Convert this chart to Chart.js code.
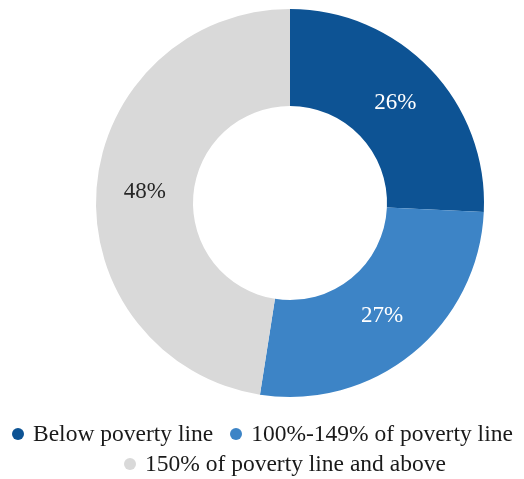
<!DOCTYPE html>
<html>
<head>
<meta charset="utf-8">
<script src="https://cdn.jsdelivr.net/npm/chart.js@4/dist/chart.umd.min.js"></script>
<style>
  html, body { margin: 0; padding: 0; background: #ffffff; }
  #wrap { position: relative; width: 524px; height: 479px; }
  canvas { position: absolute; left: 0; top: 0; }
  .row { position: absolute; white-space: nowrap; font-family: "Liberation Serif", "Times New Roman", "DejaVu Serif", serif; font-size: 23.5px; color: #1a1a1a; line-height: 26px; }
  .item { display: inline-block; margin-right: 17px; }
  .dot { display: inline-block; width: 12px; height: 12px; border-radius: 50%; margin-right: 9px; vertical-align: 1px; }
</style>
</head>
<body>
<div id="wrap">
  <canvas id="c" width="524" height="479"></canvas>
  <div id="row1" class="row" style="left:12px; top:420px;"></div>
  <div id="row2" class="row" style="left:124px; top:450px;"></div>
</div>
<script>
const categories = ["Below poverty line", "100%-149% of poverty line", "150% of poverty line and above"];
const values = [26, 27, 48];
const valueLabels = ["26%", "27%", "48%"];
const colors = ["#0d5394", "#3d84c6", "#d9d9d9"];
const labelColors = ["#ffffff", "#ffffff", "#262626"];
const legendRows = [[0, 1], [2]];

const labelPlugin = {
  id: 'sliceLabels',
  afterDatasetsDraw(chart) {
    const ctx = chart.ctx;
    const meta = chart.getDatasetMeta(0);
    ctx.save();
    ctx.font = '23px "Liberation Serif", "Times New Roman", "DejaVu Serif", serif';
    ctx.textAlign = 'center';
    ctx.textBaseline = 'middle';
    meta.data.forEach((arc, i) => {
      const p = arc.getCenterPoint();
      ctx.fillStyle = labelColors[i];
      ctx.fillText(valueLabels[i], p.x, p.y);
    });
    ctx.restore();
  }
};

new Chart(document.getElementById('c'), {
  type: 'doughnut',
  data: {
    labels: categories,
    datasets: [{
      data: values,
      backgroundColor: colors,
      borderWidth: 0
    }]
  },
  options: {
    responsive: false,
    animation: false,
    cutout: '50%',
    layout: { padding: { left: 56, top: 9, right: 0, bottom: 82 } },
    plugins: {
      legend: { display: false },
      tooltip: { enabled: false }
    }
  },
  plugins: [labelPlugin]
});

legendRows.forEach((row, r) => {
  const el = document.getElementById('row' + (r + 1));
  row.forEach(i => {
    const span = document.createElement('span');
    span.className = 'item';
    const dot = document.createElement('span');
    dot.className = 'dot';
    dot.style.background = colors[i];
    span.appendChild(dot);
    span.appendChild(document.createTextNode(categories[i]));
    el.appendChild(span);
  });
});
</script>
</body>
</html>
